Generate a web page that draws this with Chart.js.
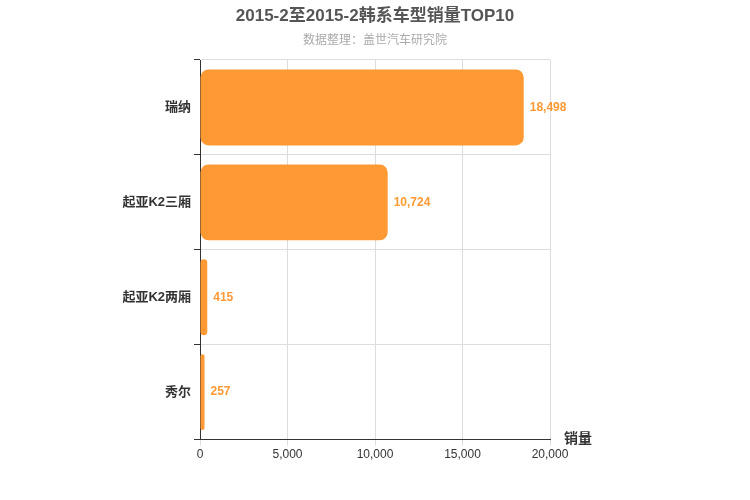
<!DOCTYPE html>
<html><head><meta charset="utf-8">
<script src="https://cdn.jsdelivr.net/npm/chart.js@4"></script>
<style>body{margin:0;background:#fff}#wrap{width:750px;height:500px}</style>
</head><body><div id="wrap"><canvas id="c"></canvas></div>
<script>
// 车型与销量
const models = ['瑞纳', '起亚K2三厢', '起亚K2两厢', '秀尔'];
const sales = [18498, 10724, 415, 257];
const xTicks = [0, 5000, 10000, 15000, 20000];

const FONT = '"Liberation Sans", "Noto Sans CJK SC", sans-serif';

const extras = {
    id: 'extras',
    afterDatasetsDraw(chart) {
        const ctx = chart.ctx;
        const meta = chart.getDatasetMeta(0);
        ctx.save();
        ctx.font = 'bold 12px ' + FONT;
        ctx.fillStyle = '#FF9933';
        ctx.textBaseline = 'middle';
        meta.data.forEach((bar, i) => {
            ctx.fillText(sales[i].toLocaleString('en-US'), bar.x + 6, bar.y);
        });
        // 标题
        ctx.textAlign = 'center';
        ctx.fillStyle = '#555';
        ctx.font = 'bold 17px ' + FONT;
        ctx.fillText('2015-2至2015-2韩系车型销量TOP10', 375, 16);
        ctx.fillStyle = '#aaa';
        ctx.font = '12px ' + FONT;
        ctx.fillText('数据整理：盖世汽车研究院', 375, 41);
        // 轴名
        ctx.textAlign = 'left';
        ctx.fillStyle = '#333';
        ctx.font = 'bold 14px ' + FONT;
        ctx.fillText('销量', 564, 439);
        ctx.restore();
    }
};

new Chart(document.getElementById('c'), {
    type: 'bar',
    data: {
        labels: models,
        datasets: [{
            data: sales,
            backgroundColor: '#FF9933',
            borderRadius: 8,
            borderSkipped: false,
            barPercentage: 0.8,
            categoryPercentage: 1
        }]
    },
    options: {
        indexAxis: 'y',
        responsive: true,
        maintainAspectRatio: false,
        animation: false,
        layout: { padding: { top: 60, right: 200, bottom: 36, left: 0 } },
        plugins: { legend: { display: false }, tooltip: { enabled: false } },
        scales: {
            x: {
                min: 0, max: 20000,
                afterBuildTicks: s => { s.ticks = xTicks.map(v => ({ value: v })); },
                ticks: { color: '#333', font: { family: FONT, size: 12 }, padding: 2, callback: v => v.toLocaleString('en-US') },
                grid: { color: '#ddd', tickLength: 6 },
                border: { color: '#333' }
            },
            y: {
                afterFit: s => { s.width = 200; },
                ticks: { color: '#333', font: { family: FONT, size: 13, weight: 'bold' } },
                grid: { offset: true, color: '#ddd', tickLength: 6, tickColor: '#333' },
                border: { color: '#333' }
            }
        }
    },
    plugins: [extras]
});
</script></body></html>
